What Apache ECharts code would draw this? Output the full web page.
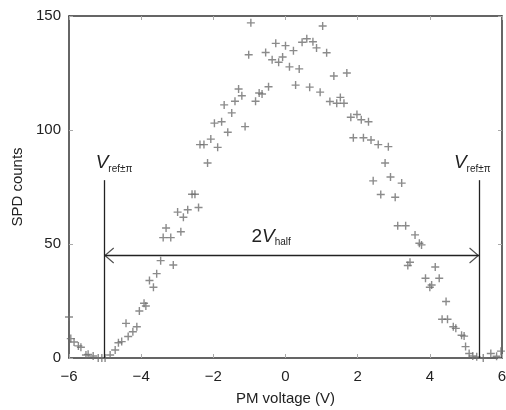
<!DOCTYPE html>
<html>
<head>
    <meta charset="utf-8">
    <title>SPD counts vs PM voltage</title>
    <script src="https://cdn.jsdelivr.net/npm/echarts@6/dist/echarts.min.js"></script>
</head>
<body style="margin:0;">
<div id="main" style="width:506px;height:410px;"></div>
<script type="text/javascript">
// measured points: [PM voltage (V), SPD counts]
var voltage = [
    -6.0, -5.95, -5.86, -5.74, -5.67, -5.53, -5.47, -5.33, -5.19, -5.09, -5.0, -4.86, -4.72, -4.63, -4.54,
    -4.42, -4.36, -4.23, -4.12, -4.05, -3.92, -3.87, -3.77, -3.66, -3.57, -3.46, -3.11, -3.31, -3.39, -3.18,
    -2.9, -2.99, -2.83, -2.71, -2.59, -2.51, -2.41, -2.16, -2.37, -2.26, -2.07, -1.88, -1.97, -1.77, -1.6,
    -1.12, -1.49, -1.7, -1.4, -1.3, -1.21, -0.83, -0.73, -0.65, -0.47, -1.02, -0.96, -0.55, -0.27, 0.0,
    0.22, -0.37, -0.19, -0.08, 0.46, 0.59, 0.76, 0.86, 1.14, 1.03, 0.11, 0.38, 0.28, 0.67, 0.96,
    1.34, 1.70, 1.23, 1.42, 1.52, 1.62, 1.81, 1.98, 2.10, 2.30, 1.88, 2.16, 2.37, 2.57, 2.85,
    2.76, 2.91, 2.43, 3.22, 2.64, 3.04, 3.11, 3.33, 3.59, 3.71, 3.77, 3.45, 3.39, 4.15, 3.88,
    4.26, 4.0, 4.05, 4.45, 4.34, 4.49, 4.65, 4.72, 4.88, 4.95, 4.99, 5.09, 5.19, 5.30, 5.48,
    5.69, 5.85, 5.97
];
var counts = [
    18, 8.5, 7, 5.3, 4.7, 1.3, 1.6, 0.9, 0, 0, 0, 1.3, 3.5, 6.7, 7.2,
    15.2, 9.4, 11.5, 13.7, 20.6, 24, 22.8, 34, 31, 37, 42.7, 40.8, 57, 52.8, 52.8,
    55.4, 64, 61.7, 65, 71.8, 71.8, 66, 85.5, 93.6, 93.6, 96, 92.4, 103, 103.6, 99,
    101.5, 107.5, 111, 112.6, 118, 115, 112.6, 116.2, 115.8, 119, 133, 147, 134, 138, 137,
    134.8, 130.8, 129.7, 132, 138.5, 140, 138.7, 136, 133.9, 145.6, 127.7, 126.8, 119.7, 118.8, 116.6,
    123.7, 125, 112.5, 111.7, 114.3, 111.7, 105.6, 106.8, 104.5, 103.6, 96.6, 96.6, 95.6, 93.6, 92.7,
    85.5, 79.4, 77.7, 76.7, 71.7, 70.5, 58, 58, 54, 50.3, 49.6, 42, 40.6, 39.9, 35,
    35, 31, 32, 24.8, 17, 17, 13.7, 13, 10, 9.6, 5, 2, 0.9, 0.5, 0,
    2, 0.8, 3
];
var xTicks = [-6, -4, -2, 0, 2, 4, 6];
var yTicks = [0, 50, 100, 150];

// annotation values (V_ref±π positions, line top, 2V_half arrow level)
var vRefLeft = -5.03;
var vRefRight = 5.37;
var vRefTop = 78;
var arrowLevel = 45;
var headInset = 0.14;

var points = voltage.map(function (v, i) { return [v, counts[i]]; });

var plus = 'path://M3.3,0h1.4v3.3h3.3v1.4h-3.3v3.3h-1.4v-3.3h-3.3v-1.4h3.3z';
var chevron = 'path://M8,0L16,9.3L15,10L8,1.9L1,10L0,9.3Z';
var font = '"Liberation Sans", Arial, sans-serif';

function fmt(v) {
    return v < 0 ? '\u2212' + (-v) : String(v);
}

var myChart = echarts.init(document.getElementById('main'));
var tickStyle = { show: true, inside: true, length: 4, lineStyle: { color: '#aaa', width: 1 } };
var axisLine = { show: true, onZero: false, lineStyle: { color: '#333', width: 1.5 } };

myChart.setOption({
    animation: false,
    backgroundColor: '#fff',
    grid: { left: 69, right: 4, top: 16, bottom: 52, outerBoundsMode: 'none', containLabel: false },
    xAxis: [{
        type: 'value',
        min: xTicks[0], max: xTicks[xTicks.length - 1], interval: 2,
        name: 'PM voltage (V)', nameLocation: 'middle', nameGap: 33,
        nameTextStyle: { fontFamily: font, fontSize: 15, color: '#222' },
        axisLine: axisLine, axisTick: tickStyle, splitLine: { show: false },
        axisLabel: { formatter: fmt, fontFamily: font, fontSize: 15, color: '#222', margin: 11 }
    }, {
        type: 'value', position: 'top',
        min: xTicks[0], max: xTicks[xTicks.length - 1], interval: 2,
        axisLine: axisLine, axisTick: tickStyle, splitLine: { show: false },
        axisLabel: { show: false }
    }],
    yAxis: [{
        type: 'value',
        min: yTicks[0], max: yTicks[yTicks.length - 1], interval: 50,
        name: 'SPD counts', nameLocation: 'middle', nameGap: 44,
        nameTextStyle: { fontFamily: font, fontSize: 15, color: '#222' },
        axisLine: axisLine, axisTick: tickStyle, splitLine: { show: false },
        axisLabel: { fontFamily: font, fontSize: 15, color: '#222', margin: 8 }
    }, {
        type: 'value', position: 'right',
        min: yTicks[0], max: yTicks[yTicks.length - 1], interval: 50,
        axisLine: axisLine, axisTick: tickStyle, splitLine: { show: false },
        axisLabel: { show: false }
    }],
    series: [{
        name: 'counts',
        type: 'scatter',
        data: points,
        symbol: plus,
        symbolSize: 8,
        itemStyle: { color: '#6e6e6e' },
        markLine: {
            silent: true,
            symbol: 'none',
            animation: false,
            label: { show: false },
            lineStyle: { color: '#222', width: 1.3, type: 'solid' },
            data: [
                [{ coord: [vRefLeft, 0] }, { coord: [vRefLeft, vRefTop] }],
                [{ coord: [vRefRight, 0] }, { coord: [vRefRight, vRefTop] }],
                [{ coord: [vRefLeft, arrowLevel] }, { coord: [vRefRight, arrowLevel] }]
            ]
        },
        markPoint: {
            silent: true,
            symbol: 'circle',
            symbolSize: 0,
            label: {
                show: true,
                position: 'top',
                distance: 2,
                offset: [10, -4],
                formatter: '{v|V}{s|ref\u00b1\u03c0}',
                rich: {
                    v: { fontFamily: font, fontStyle: 'italic', fontSize: 19, color: '#222' },
                    s: { fontFamily: font, fontSize: 10, color: '#222', padding: [12, 0, 0, 0] }
                }
            },
            data: [
                { coord: [vRefLeft, vRefTop] },
                { coord: [vRefRight, vRefTop], label: { offset: [-7, -4] } },
                {
                    coord: [-0.4, arrowLevel],
                    label: {
                        offset: [0, -6],
                        formatter: '{n|2}{v|V}{s|half}',
                        rich: {
                            n: { fontFamily: font, fontSize: 19, color: '#222' },
                            v: { fontFamily: font, fontStyle: 'italic', fontSize: 19, color: '#222' },
                            s: { fontFamily: font, fontSize: 10, color: '#222', padding: [12, 0, 0, 0] }
                        }
                    }
                }
            ]
        }
    }, {
        name: 'arrowHeads',
        type: 'scatter',
        silent: true,
        symbol: chevron,
        symbolSize: [16, 10],
        itemStyle: { color: '#222' },
        data: [
            { value: [vRefLeft + headInset, arrowLevel], symbolRotate: 90 },
            { value: [vRefRight - headInset, arrowLevel], symbolRotate: -90 }
        ]
    }]
});
</script>
</body>
</html>
